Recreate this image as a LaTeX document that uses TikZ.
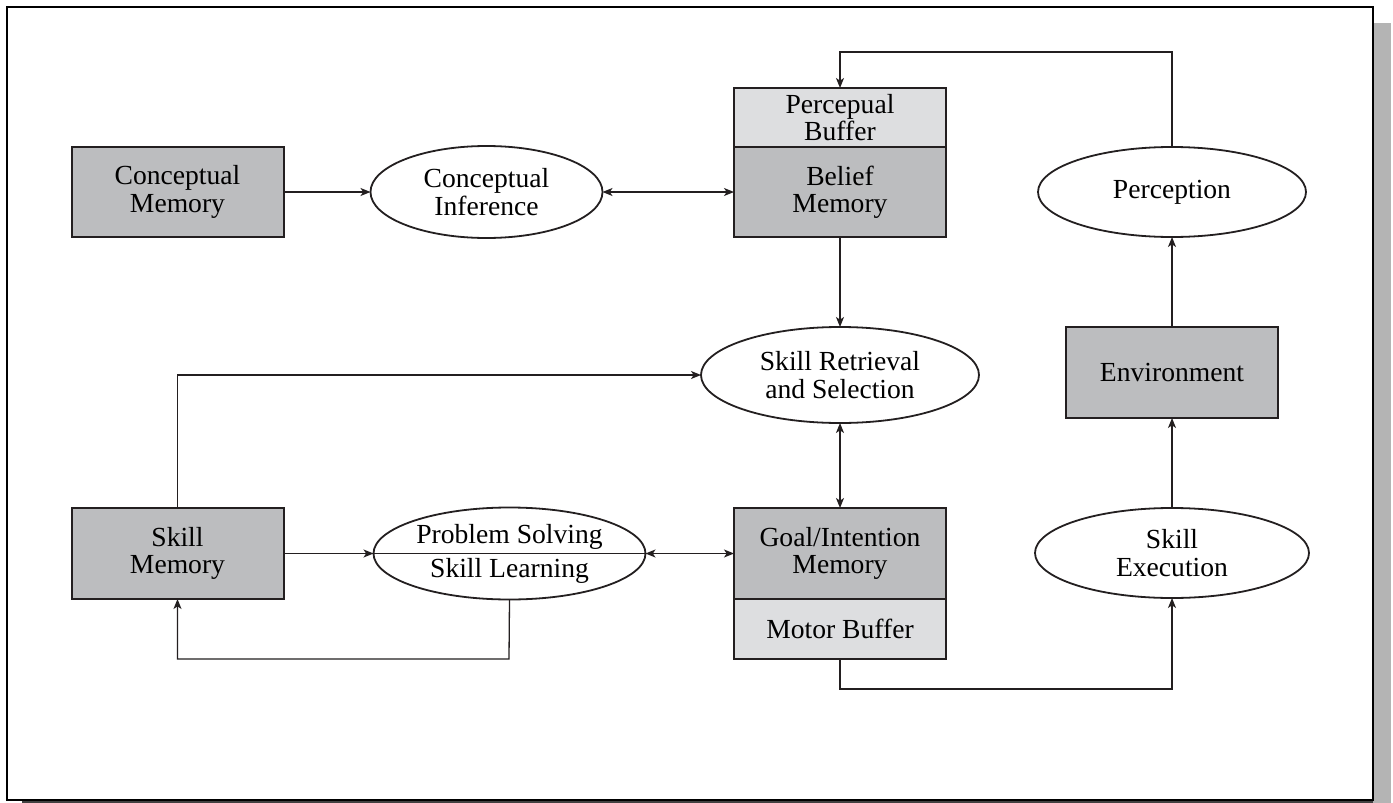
\documentclass[tikz,border=0pt]{standalone}
\usepackage{fontspec}
\setmainfont{Liberation Serif}
\usetikzlibrary{
  arrows.meta,
  shapes.geometric,
  positioning
}
\definecolor{memfill}{RGB}{188,189,191}
\definecolor{buffill}{RGB}{221,222,224}
\definecolor{inkline}{RGB}{35,31,32}
\definecolor{shadowgray}{RGB}{180,180,180}
\newcommand{\diagfont}{\fontsize{13.8}{13.6}\selectfont}
\tikzset{
  memblock/.style={
    rectangle, draw=inkline, line width=1pt, fill=memfill,
    minimum width=106pt, minimum height=45pt, outer sep=0pt,
    align=center, font=\diagfont, inner sep=1pt
  },
  bufblock/.style={
    memblock, fill=buffill, minimum height=30pt
  },
  process/.style={
    ellipse, draw=inkline, line width=0.9pt, fill=white,
    minimum width=137pt, minimum height=46pt, outer sep=0pt,
    align=center, font=\diagfont, inner sep=0pt
  },
  arrow/.style={-{Stealth[length=5pt, width=4pt, inset=1.3pt]}, line width=0.65pt, draw=inkline},
  dblarrow/.style={{Stealth[length=5pt, width=4pt, inset=1.3pt]}-{Stealth[length=5pt, width=4pt, inset=1.3pt]}, line width=0.65pt, draw=inkline},
  plainline/.style={line width=0.65pt, draw=inkline}
}

\begin{document}
\begin{tikzpicture}[x=0.5pt, y=-0.5pt]

\useasboundingbox (0,0) rectangle (1393,803);

% Frame with shadow
\fill[shadowgray] (22,23) rectangle (1391,803);
\fill[black!75] (22,799) rectangle (1373,803);
\draw[line width=0.9pt, fill=white] (7,7) rectangle (1373,800);

% Top row
\node[memblock] (cmem) at (177.5,192) {Conceptual\\Memory};
\node[process, right=43.5pt of cmem, minimum width=116pt] (cinf) {Conceptual\\Inference};
\node[memblock] (belief) at (840,192) {Belief\\Memory};
\node[bufblock, above=0pt of belief, minimum height=29.5pt] (percbuf) {Percepual\\Buffer};
\node[process, minimum width=134pt, minimum height=45pt] (perc) at (1172,192) {Perception};

% Middle row
\node[process, minimum width=139pt, minimum height=48pt] (retr) at (840,375) {Skill Retrieval\\and Selection};
\node[memblock, minimum height=45.5pt] (env) at (1172,372.5) {Environment};

% Bottom row
\node[memblock, minimum height=45.5pt] (smem) at (177.5,553.5) {Skill\\Memory};
\node[process, right=45pt of smem, minimum width=136pt] (psol) {Problem Solving\\[3.5pt]Skill Learning};
\node[memblock, minimum height=45.5pt] (goal) at (840,553.5) {Goal/Intention\\Memory};
\node[bufblock, below=0pt of goal] (motor) {Motor Buffer};
\node[process, minimum width=137pt, minimum height=45pt] (sexe) at (1172,553) {Skill\\Execution};

% Bends
\coordinate (pbend) at (1172,52);
\coordinate (lbend) at (509,659);
\coordinate (mbend) at (840,689);

% Connectors
\draw[arrow] (cmem) -- (cinf);
\draw[dblarrow] (cinf) -- (belief);
\draw[arrow] (belief) -- (retr);
\draw[arrow] (perc.north) -- (pbend) -| (percbuf.north);
\draw[arrow] (env) -- (perc);
\draw[arrow] (sexe) -- (env);
\draw[dblarrow] (retr) -- (goal);
\draw[arrow] (smem) -- (psol);
\draw[dblarrow] (psol) -- (goal);
\draw[plainline] (psol.west) -- (psol.east);
\draw[arrow] (psol.south) -- (lbend) -| (smem.south);
\draw[arrow] (smem.north) |- (retr.west);
\draw[arrow] (motor.south) -- (mbend) -| (sexe.south);

\end{tikzpicture}
\end{document}
